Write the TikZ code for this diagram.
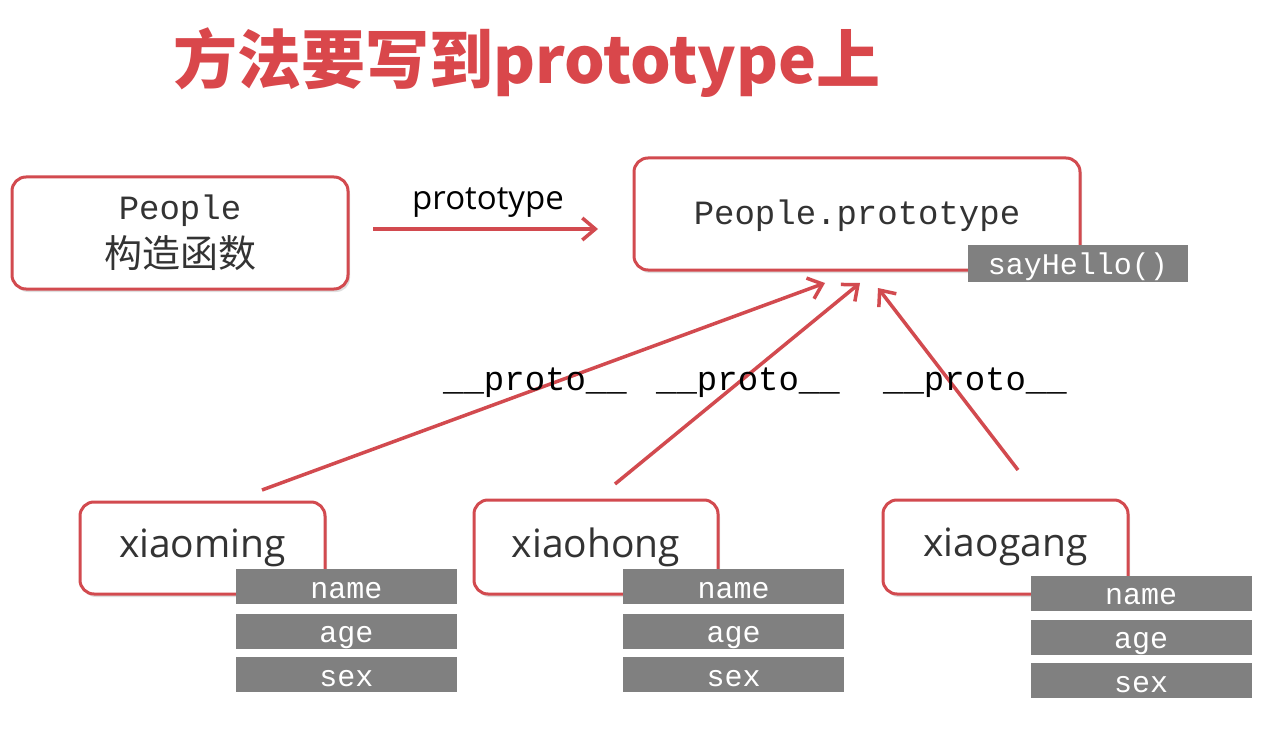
\documentclass[tikz,border=0pt]{standalone}
\usepackage{fontspec}
\setmainfont{Open Sans}
\newfontfamily\cjk{Noto Sans CJK SC}
\newfontfamily\monof{Liberation Mono}
\usetikzlibrary{shadows,arrows.meta}
\definecolor{boxred}{HTML}{D24A4F}
\definecolor{titlered}{HTML}{D9474B}
\definecolor{attrgray}{HTML}{808080}
\definecolor{txtgray}{HTML}{333333}
\begin{document}
\begin{tikzpicture}[x=1pt,y=-1pt,
  rbox/.style={draw=boxred, line width=3pt, rounded corners=14pt, fill=white,
    drop shadow={shadow xshift=2pt, shadow yshift=-3pt, opacity=0.25},
    inner sep=0pt, text=txtgray, align=center},
  attr/.style={fill=attrgray, text=white, minimum width=221pt, minimum height=35pt,
    inner sep=0pt, text height=26pt, text depth=3pt,
    font=\monof\fontsize{30}{32}\selectfont},
  link/.style={draw=boxred, line width=3.5pt, -{Straight Barb[length=13pt,width=22pt]}},
  lbl/.style={inner sep=0pt, text=black}
  ]
\useasboundingbox (0,0) rectangle (1280,730);
\fill[white] (0,0) rectangle (1280,730);

% title
\node[lbl, text=titlered] (title) at (527,63)
  {\cjk\bfseries\fontsize{64}{70}\selectfont 方法要写到prototype上};

% top boxes
\node[rbox, minimum width=336pt, minimum height=112pt,
  font=\fontsize{34}{48}\selectfont] (people) at (180,233)
  {{\monof People}\\{\cjk\fontsize{38}{48}\selectfont 构造函数}};
\node[rbox, minimum width=446pt, minimum height=112pt,
  font=\monof\fontsize{34}{40}\selectfont, text height=24pt, text depth=2pt]
  (proto) at (857,214) {People.prototype};
\node[attr, minimum width=220pt, minimum height=37pt]
  (say) at (1078,263.5) {sayHello()};

% prototype arrow
\coordinate (pa) at (373,229);
\coordinate (pb) at (598,229);
\draw[link] (pa) -- (pb);
\node[lbl, font=\fontsize{33}{36}\selectfont] (plabel) at (488,203) {prototype};

% bottom boxes
\node[rbox, minimum width=245pt, minimum height=92pt, font=\fontsize{39}{42}\selectfont]
  (ming) at (202.5,548) {xiaoming};
\node[rbox, minimum width=244pt, minimum height=94pt, font=\fontsize{39}{42}\selectfont]
  (hong) at (596,547) {xiaohong};
\node[rbox, minimum width=245pt, minimum height=94pt, font=\fontsize{39}{42}\selectfont]
  (gang) at (1005.5,547) {xiaogang};

% attributes
\node[attr] (mname) at (346.5,586.5) {name};
\node[attr] (mage)  at (346.5,631) {age};
\node[attr] (msex)  at (346.5,674.5) {sex};
\node[attr] (hname) at (733.5,586.5) {name};
\node[attr] (hage)  at (733.5,631) {age};
\node[attr] (hsex)  at (733.5,674.5) {sex};
\node[attr] (gname) at (1141,593) {name};
\node[attr] (gage)  at (1141,637) {age};
\node[attr] (gsex)  at (1141,680.5) {sex};

% __proto__ arrows
\coordinate (m1) at (262,490);
\coordinate (m2) at (825,283);
\coordinate (h1) at (615,484);
\coordinate (h2) at (860,283);
\coordinate (g1) at (1018,470);
\coordinate (g2) at (878,288);
\draw[link] (m1) -- (m2);
\draw[link] (h1) -- (h2);
\draw[link] (g1) -- (g2);

\node[lbl, font=\monof\fontsize{34}{40}\selectfont] (p1) at (535,383) {\_\_proto\_\_};
\node[lbl, font=\monof\fontsize{34}{40}\selectfont] (p2) at (748,383) {\_\_proto\_\_};
\node[lbl, font=\monof\fontsize{34}{40}\selectfont] (p3) at (975,383) {\_\_proto\_\_};
\end{tikzpicture}
\end{document}
